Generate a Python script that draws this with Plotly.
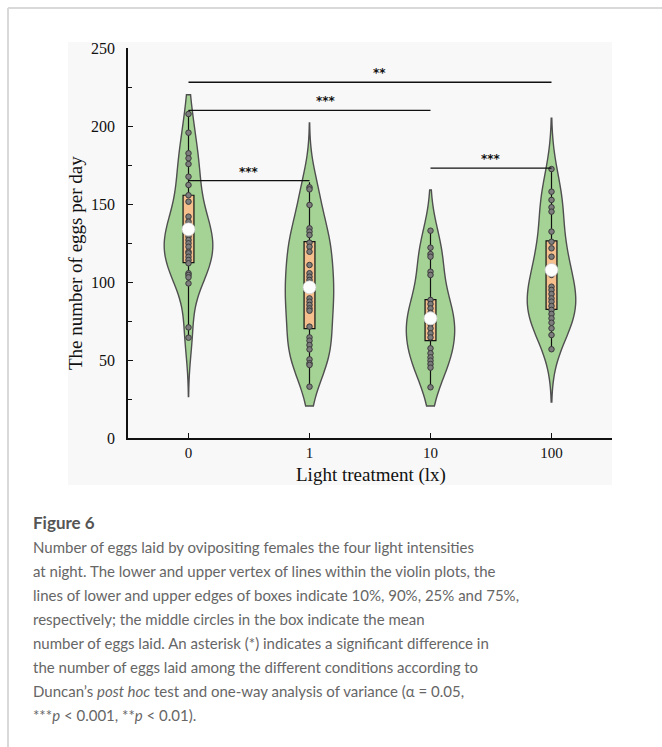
import plotly.graph_objects as go
import numpy as np

# ---------------- data ----------------
categories = ["0", "1", "10", "100"]

eggs_0lx = [207.7, 195.7, 182.5, 179.3, 175.6, 167.5, 162.2, 155.6, 151.5, 141.9,
            138.7, 136.5, 134.4, 132.3, 129.1, 126.9, 124.8, 122.6, 119.4, 118.4,
            116.2, 114.1, 112.0, 105.6, 104.5, 103.0, 99.1, 70.9, 64.3]
eggs_1lx = [160.7, 159.4, 149.4, 134.4, 132.3, 130.1, 125.2, 122.6, 119.4, 110.9,
            105.6, 103.4, 101.3, 99.6, 89.5, 87.4, 85.3, 83.1, 81.6, 71.4,
            64.5, 62.4, 59.6, 56.8, 50.4, 47.9, 46.8, 32.9]
eggs_10lx = [132.9, 122.0, 117.9, 116.2, 106.6, 104.5, 88.5, 85.9, 83.1, 80.3,
             78.2, 75.6, 73.1, 70.3, 67.1, 64.5, 57.5, 54.3, 51.7, 49.6,
             47.4, 45.1, 32.5]
eggs_100lx = [172.4, 157.9, 152.6, 147.9, 145.1, 132.3, 125.8, 121.6, 116.2, 109.8,
              107.7, 104.5, 97.0, 94.9, 92.3, 89.5, 87.4, 84.6, 82.1, 79.5,
              76.7, 73.9, 70.3, 66.0, 56.9]
groups = [eggs_0lx, eggs_1lx, eggs_10lx, eggs_100lx]

p10 = [64.3, 32.9, 32.5, 56.9]
p25 = [112.4, 70.1, 62.4, 82.5]
p75 = [155.6, 125.9, 88.7, 126.3]
p90 = [210.0, 164.0, 133.0, 172.4]
means = [133.8, 96.6, 76.7, 107.7]

violin_low = [26.5, 20.5, 20.5, 23.0]
violin_high = [220.0, 202.0, 159.0, 205.0]

# significance brackets: (from, to, height, label, label position)
sig_from = ["0", "0", "0", "10"]
sig_to = ["100", "10", "1", "100"]
sig_height = [228, 210, 165, 173]
sig_label = ["**", "***", "***", "***"]
sig_label_x = [1.58, 1.14, 0.5, 2.5]

caption_title = "Figure 6"
caption_lines = [
    "Number of eggs laid by ovipositing females the four light intensities",
    "at night. The lower and upper vertex of lines within the violin plots, the",
    "lines of lower and upper edges of boxes indicate 10%, 90%, 25% and 75%,",
    "respectively; the middle circles in the box indicate the mean",
    "number of eggs laid. An asterisk (*) indicates a significant difference in",
    "the number of eggs laid among the different conditions according to",
    "Duncan\u2019s <i>post hoc</i> test and one-way analysis of variance (\u03b1 = 0.05,",
    "***<i>p</i> < 0.001, **<i>p</i> < 0.01).",
]

# ---------------- layout geometry (pixels) ----------------
W, H = 662, 747
L, R, T, B = 128, 612, 48, 438


def px(x):
    return (x - L) / (R - L)


def py(y):
    return (B - y) / (B - T)


fig = go.Figure()

for i, (cat, vals) in enumerate(zip(categories, groups)):
    fig.add_trace(go.Violin(
        x=[cat] * len(vals), y=vals, name=cat,
        bandwidth=16, spanmode="manual", span=[violin_low[i], violin_high[i]],
        width=0.40, points=False, box_visible=False, meanline_visible=False,
        fillcolor="#a5d395", line=dict(color="#4f4f4f", width=1.4),
        opacity=1, hoverinfo="skip", showlegend=False,
    ))

for i, cat in enumerate(categories):
    fig.add_trace(go.Box(
        x=[cat], q1=[p25[i]], median=[means[i]], q3=[p75[i]],
        lowerfence=[p10[i]], upperfence=[p90[i]],
        width=0.09, whiskerwidth=0, boxpoints=False,
        fillcolor="#f6c08e", line=dict(color="#111111", width=1.2),
        showlegend=False, hoverinfo="skip",
    ))

for cat, vals in zip(categories, groups):
    fig.add_trace(go.Scatter(
        x=[cat] * len(vals), y=vals, mode="markers",
        marker=dict(size=5.5, color="#7d7d7d", line=dict(color="#3a3a3a", width=1)),
        showlegend=False, hoverinfo="skip",
    ))

fig.add_trace(go.Scatter(
    x=categories, y=means, mode="markers",
    marker=dict(size=13, color="white", line=dict(color="#d0d0d0", width=0.8)),
    showlegend=False, hoverinfo="skip",
))

for a, b, h, lab, lx in zip(sig_from, sig_to, sig_height, sig_label, sig_label_x):
    fig.add_trace(go.Scatter(
        x=[a, b], y=[h, h], mode="lines",
        line=dict(color="#111111", width=1.4),
        showlegend=False, hoverinfo="skip",
    ))
    fig.add_annotation(
        x=lx, y=h, xref="x", yref="y", text="<b>" + lab + "</b>",
        showarrow=False, yanchor="bottom", yshift=0,
        font=dict(family="DejaVu Sans", size=12, color="#111111"),
    )

# background panel of the figure image, card borders
shapes = [
    dict(type="rect", xref="paper", yref="paper", x0=px(68), x1=px(612), y0=py(485), y1=py(42),
         fillcolor="#f8f8f8", line=dict(width=0), layer="below"),
    dict(type="line", xref="paper", yref="paper", x0=px(8), x1=px(662), y0=py(8), y1=py(8),
         line=dict(color="#d9d9d9", width=2)),
    dict(type="line", xref="paper", yref="paper", x0=px(8), x1=px(8), y0=py(8), y1=py(747),
         line=dict(color="#d9d9d9", width=2)),
]

annotations = [
    dict(text="The number of eggs per day", xref="paper", yref="paper", x=px(75), y=py(263),
         textangle=-90, showarrow=False, xanchor="center", yanchor="middle",
         font=dict(family="Liberation Serif", size=19, color="#111111")),
    dict(text="Light treatment (lx)", xref="paper", yref="paper", x=px(371), y=py(475),
         showarrow=False, xanchor="center", yanchor="middle",
         font=dict(family="Liberation Serif", size=19, color="#111111")),
    dict(text="<b>" + caption_title + "</b>", xref="paper", yref="paper", x=px(31), y=py(522),
         showarrow=False, xanchor="left", yanchor="middle",
         font=dict(family="Lato", size=17, color="#555555")),
]
for k, line in enumerate(caption_lines):
    annotations.append(dict(
        text=line, xref="paper", yref="paper", x=px(31), y=py(547 + 24 * k),
        showarrow=False, xanchor="left", yanchor="middle",
        font=dict(family="Lato", size=15, color="#666666"),
    ))

for a in annotations:
    fig.add_annotation(**a)

fig.update_layout(
    width=W, height=H,
    margin=dict(l=L, r=W - R, t=T, b=H - B, pad=0),
    paper_bgcolor="white", plot_bgcolor="#f8f8f8",
    violinmode="overlay", boxmode="overlay",
    shapes=shapes, showlegend=False,
    font=dict(family="Liberation Serif", color="#111111"),
)
fig.update_xaxes(
    type="category", categoryorder="array", categoryarray=categories,
    range=[-0.5, 3.5], showline=True, linecolor="#111111", linewidth=1.5,
    ticks="inside", ticklen=5, tickwidth=1.3, tickcolor="#111111",
    tickfont=dict(family="Liberation Serif", size=15, color="#111111"),
    showgrid=False, zeroline=False, mirror=False,
)
fig.update_yaxes(
    range=[0, 250], tickvals=[0, 50, 100, 150, 200, 250],
    showline=True, linecolor="#111111", linewidth=1.5,
    ticks="inside", ticklen=5, tickwidth=1.3, tickcolor="#111111",
    minor=dict(tickvals=[25, 75, 125, 175, 225], ticks="inside", ticklen=4,
               tickwidth=1.3, tickcolor="#111111"),
    tickfont=dict(family="Liberation Serif", size=16, color="#111111"),
    ticklabelstandoff=8,
    showgrid=False, zeroline=False, mirror=False,
)

fig.write_html("out.html")
